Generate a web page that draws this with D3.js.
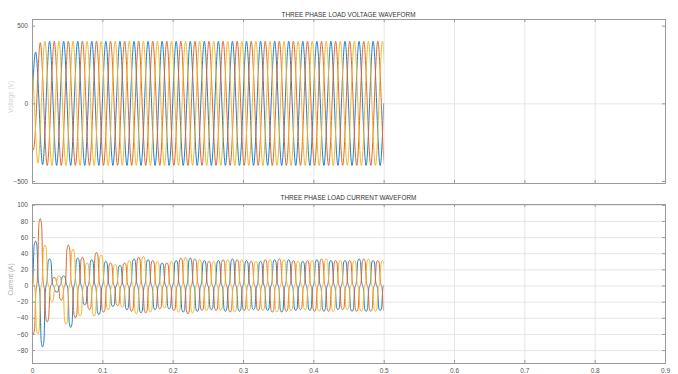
<!DOCTYPE html>
<html>
<head>
<meta charset="utf-8">
<script src="https://cdn.jsdelivr.net/npm/d3@7/dist/d3.min.js"></script>
<style>
  body { margin: 0; background: #fff; }
  svg { font-family: 'Liberation Sans', Arial, sans-serif; }
</style>
</head>
<body>
<div id="chart"></div>
<script>
// axis ticks
const xTicks = [0, 0.1, 0.2, 0.3, 0.4, 0.5, 0.6, 0.7, 0.8, 0.9];
const voltTicks = [-500, 0, 500];
const currTicks = [-80, -60, -40, -20, 0, 20, 40, 60, 80, 100];

// 50 Hz supply: every phase is drawn half-cycle by half-cycle
const halfCycle = 0.01;
const phaseNames = ['A', 'B', 'C'];
const phaseStart = [0, -0.00333, -0.00667];   // first zero crossing
const phaseFirstSign = [1, -1, 1];
const phaseColors = ['#1f7fc6', '#e0682c', '#efb730'];

// peak of each half-cycle (V)
const voltPeakA = [330, 395, 400, 400, 400, 400, 400, 400, 400, 400,
  400, 400, 400, 400, 400, 400, 400, 400, 400, 400,
  400, 400, 400, 400, 400, 400, 400, 400, 400, 400,
  400, 400, 400, 400, 400, 400, 400, 400, 400, 400,
  400, 400, 400, 400, 400, 400, 400, 400, 400, 400];
const voltPeakB = [300, 390, 400, 400, 400, 400, 400, 400, 400, 400,
  400, 400, 400, 400, 400, 400, 400, 400, 400, 400,
  400, 400, 400, 400, 400, 400, 400, 400, 400, 400,
  400, 400, 400, 400, 400, 400, 400, 400, 400, 400,
  400, 400, 400, 400, 400, 400, 400, 400, 400, 400, 400];
const voltPeakC = [260, 385, 400, 400, 400, 400, 400, 400, 400, 400,
  400, 400, 400, 400, 400, 400, 400, 400, 400, 400,
  400, 400, 400, 400, 400, 400, 400, 400, 400, 400,
  400, 400, 400, 400, 400, 400, 400, 400, 400, 400,
  400, 400, 400, 400, 400, 400, 400, 400, 400, 400, 400];

// peak of each half-cycle (A)
const currPeakA = [55, 76, 33, 8, 12, 52, 34, 24, 32, 36,
  30, 26, 25, 30, 33, 34, 32, 30, 28, 29,
  31, 33, 34, 32, 31, 30, 31, 32, 33, 32,
  31, 30, 30, 31, 32, 33, 32, 31, 30, 31,
  32, 32, 31, 30, 31, 32, 33, 32, 31, 31];
const currPeakB = [60, 83, 45, 10, 18, 50, 40, 35, 30, 41,
  33, 28, 25, 28, 32, 35, 34, 31, 29, 28,
  31, 34, 35, 33, 31, 30, 31, 32, 33, 32,
  31, 30, 31, 32, 33, 33, 32, 31, 30, 31,
  32, 33, 32, 31, 30, 31, 32, 33, 32, 31, 32];
const currPeakC = [30, 60, 50, 20, 12, 48, 45, 38, 28, 38,
  38, 30, 26, 27, 31, 35, 36, 33, 30, 28,
  30, 33, 35, 34, 32, 31, 30, 31, 32, 33,
  32, 31, 30, 31, 32, 33, 32, 31, 30, 30,
  31, 32, 33, 32, 31, 30, 31, 32, 33, 32, 31];

// shape of one half-cycle (fraction of half-cycle, fraction of peak)
const voltShapePos = [0, 0.5];
const voltShapeLevel = [0, 1];
const currShapePos = [0, 0.12, 0.3, 0.5, 0.7, 0.88];
const currShapeLevel = [0, 0.12, 0.9, 1, 0.9, 0.12];

const width = 678;
const height = 374;

const svg = d3.select('#chart')
  .append('svg')
  .attr('width', width)
  .attr('height', height);

const x = d3.scaleLinear().domain([0, 0.9]).range([32, 665]);

function buildWave(peaks, start, sign, pos, level) {
  const pts = [];
  peaks.forEach((p, k) => {
    const s = (k % 2 === 0) ? sign : -sign;
    pos.forEach((f, j) => {
      pts.push([start + (k + f) * halfCycle, s * p * level[j]]);
    });
  });
  pts.push([start + peaks.length * halfCycle, 0]);
  return pts;
}

const panels = [
  {
    id: 'volt', top: 19, bottom: 183, domain: [-513, 543],
    ticks: voltTicks, grid: [0],
    title: 'THREE PHASE LOAD VOLTAGE WAVEFORM', titleY: 16.5,
    ylabel: 'Voltage (V)', ylabelColor: '#d4d4d4',
    peaks: [voltPeakA, voltPeakB, voltPeakC],
    pos: voltShapePos, level: voltShapeLevel, curve: d3.curveNatural,
    xLabels: false
  },
  {
    id: 'curr', top: 204, bottom: 363, domain: [-96, 101],
    ticks: currTicks, grid: currTicks,
    title: 'THREE PHASE LOAD CURRENT WAVEFORM', titleY: 199.5,
    ylabel: 'Current (A)', ylabelColor: '#a8a8a8',
    peaks: [currPeakA, currPeakB, currPeakC],
    pos: currShapePos, level: currShapeLevel, curve: d3.curveMonotoneX,
    xLabels: true
  }
];

panels.forEach(function (pn) {
  const y = d3.scaleLinear().domain(pn.domain).range([pn.bottom, pn.top]);
  const g = svg.append('g').attr('class', 'panel-' + pn.id);
  const plotW = x.range()[1] - x.range()[0];

  // grid
  g.append('g')
    .attr('class', 'xgrid')
    .attr('transform', `translate(0, ${pn.bottom})`)
    .call(d3.axisBottom(x).tickValues(xTicks).tickSize(-(pn.bottom - pn.top)).tickFormat(''))
    .call(a => a.select('.domain').remove())
    .selectAll('line').attr('stroke', '#e6e6e6');
  g.append('g')
    .attr('class', 'ygrid')
    .attr('transform', `translate(${x.range()[0]}, 0)`)
    .call(d3.axisLeft(y).tickValues(pn.grid).tickSize(-plotW).tickFormat(''))
    .call(a => a.select('.domain').remove())
    .selectAll('line').attr('stroke', '#e6e6e6');

  // waveforms
  const clipId = 'clip-' + pn.id;
  svg.append('clipPath').attr('id', clipId)
    .append('rect')
    .attr('x', x(0)).attr('y', pn.top)
    .attr('width', x(0.5) - x(0)).attr('height', pn.bottom - pn.top);

  const line = d3.line()
    .x(d => x(d[0]))
    .y(d => y(d[1]))
    .curve(pn.curve);

  const lines = g.append('g').attr('clip-path', `url(#${clipId})`);
  phaseNames.forEach(function (name, i) {
    const pts = buildWave(pn.peaks[i], phaseStart[i], phaseFirstSign[i], pn.pos, pn.level);
    lines.append('path')
      .attr('class', 'phase-' + name)
      .attr('d', line(pts))
      .attr('fill', 'none')
      .attr('stroke', phaseColors[i])
      .attr('stroke-width', 1);
  });

  // axes, ticks point inward like matlab
  const axisColor = '#9a9a9a';
  g.append('g')
    .attr('transform', `translate(${x.range()[0]}, 0)`)
    .call(d3.axisLeft(y).tickValues(pn.ticks).tickSize(-3).tickPadding(4));
  g.append('g')
    .attr('transform', `translate(${x.range()[1]}, 0)`)
    .call(d3.axisRight(y).tickValues(pn.ticks).tickSize(-3).tickFormat(''));
  g.append('g')
    .attr('transform', `translate(0, ${pn.top})`)
    .call(d3.axisTop(x).tickValues(xTicks).tickSize(-3).tickFormat(''));
  g.append('g')
    .attr('transform', `translate(0, ${pn.bottom})`)
    .call(d3.axisBottom(x).tickValues(xTicks).tickSize(-3).tickPadding(5)
      .tickFormat(pn.xLabels ? d3.format('') : ''));

  g.selectAll('.domain').attr('stroke', axisColor);
  g.selectAll('.tick line').filter(function () {
    return !this.parentNode.parentNode.classList.contains('xgrid') &&
      !this.parentNode.parentNode.classList.contains('ygrid');
  }).attr('stroke', axisColor);
  g.selectAll('.tick text')
    .style('font-size', '6.5px')
    .style('fill', '#555');

  // title
  g.append('text')
    .attr('x', (x.range()[0] + x.range()[1]) / 2)
    .attr('y', pn.titleY)
    .attr('text-anchor', 'middle')
    .style('font-size', '6.4px')
    .style('fill', '#333')
    .text(pn.title);

  // y label
  g.append('text')
    .attr('transform', `translate(13, ${(pn.top + pn.bottom) / 2 - 4}) rotate(-90)`)
    .attr('text-anchor', 'middle')
    .style('font-size', '6.5px')
    .style('fill', pn.ylabelColor)
    .text(pn.ylabel);
});
</script>
</body>
</html>
